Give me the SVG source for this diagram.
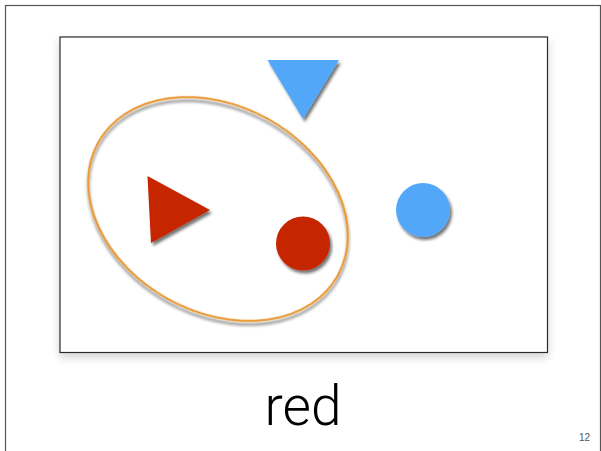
<svg xmlns="http://www.w3.org/2000/svg" width="601" height="451" viewBox="0 0 601 451">
  <defs>
    <filter id="shadow" x="-30%" y="-30%" width="160%" height="160%">
      <feGaussianBlur in="SourceAlpha" stdDeviation="1.5"/>
      <feOffset dx="1.5" dy="2.5" result="b"/>
      <feComponentTransfer><feFuncA type="linear" slope="0.55"/></feComponentTransfer>
      <feMerge><feMergeNode/><feMergeNode in="SourceGraphic"/></feMerge>
    </filter>
    <filter id="boxshadow" x="-10%" y="-10%" width="120%" height="125%">
      <feGaussianBlur in="SourceAlpha" stdDeviation="5"/>
      <feOffset dx="0" dy="4"/>
      <feComponentTransfer><feFuncA type="linear" slope="0.18"/></feComponentTransfer>
      <feMerge><feMergeNode/><feMergeNode in="SourceGraphic"/></feMerge>
    </filter>
    <style>
      .red { fill: #C52506; }
      .blue { fill: #52A7F8; }
      .label { font-family: Roboto, "Liberation Sans", sans-serif; font-weight: 300; fill: #000; }
    </style>
  </defs>
  <rect x="0" y="0" width="601" height="451" fill="#fff"/>
  <rect id="frame" x="5.5" y="5.5" width="595" height="460" fill="none" stroke="#555" stroke-width="1.2"/>
  <g id="panel">
    <rect x="60" y="37" width="487.5" height="315.5" fill="#fff" stroke="#2a2a2a" stroke-width="1.2" filter="url(#boxshadow)"/>
  </g>
  <g id="blue-triangle">
    <polygon class="blue" points="267.5,60 339,60 303,119" filter="url(#shadow)"/>
  </g>
  <g id="blue-circle">
    <circle class="blue" cx="423" cy="210" r="27" filter="url(#shadow)"/>
  </g>
  <g id="red-triangle">
    <polygon class="red" points="147.5,176 210,210 151,243" filter="url(#shadow)"/>
  </g>
  <g id="red-circle">
    <circle class="red" cx="303" cy="243.5" r="27" filter="url(#shadow)"/>
  </g>
  <g id="selection">
    <ellipse cx="218" cy="209" rx="137" ry="103" transform="rotate(29 218 209)" fill="none" stroke="#E8962F" stroke-width="2" filter="url(#shadow)"/>
  </g>
  <text class="label" x="303" y="425" font-size="55" text-anchor="middle">red</text>
  <text x="590" y="441" font-family="'Liberation Sans', sans-serif" font-size="10" fill="#555" text-anchor="end">12</text>
</svg>
